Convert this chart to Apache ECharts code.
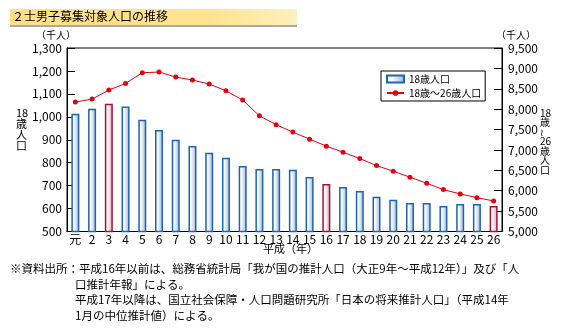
<!DOCTYPE html>
<html>
<head>
<meta charset="utf-8">
<script src="https://cdn.jsdelivr.net/npm/echarts@6/dist/echarts.min.js"></script>
<style>
html,body{margin:0;padding:0;background:#fff;}
#c{width:569px;height:329px;}
</style>
</head>
<body>
<div id="c"></div>
<script>
// ---- data ----
var categories = ['元','2','3','4','5','6','7','8','9','10','11','12','13','14','15','16','17','18','19','20','21','22','23','24','25','26'];
var pop18 = [1013,1035,1057,1045,987,943,900,873,843,821,786,773,773,769,738,707,694,677,651,638,624,624,611,620,620,611];
var pop18to26 = [8175,8247,8468,8631,8893,8910,8787,8714,8615,8451,8223,7837,7620,7437,7265,7093,6945,6788,6616,6479,6331,6184,6027,5921,5830,5749];
var highlightCats = ['3','16','26'];
var leftTicks = {min:500, max:1300, step:100};
var rightTicks = {min:5000, max:9500, step:500};
var seriesNames = ['18歳人口','18歳～26歳人口'];
var titleText = '２士男子募集対象人口の推移';
var footLines = [
  '※資料出所：平成16年以前は、総務省統計局「我が国の推計人口（大正9年～平成12年）」及び「人',
  '口推計年報」による。',
  '平成17年以降は、国立社会保障・人口問題研究所「日本の将来推計人口」（平成14年',
  '1月の中位推計値）による。'
];

var FONT = '"Noto Sans CJK JP", sans-serif';
var chart = echarts.init(document.getElementById('c'), null, {renderer:'canvas'});

function grad(c0, c1, c2){
  return new echarts.graphic.LinearGradient(0,0,1,0,[
    {offset:0,color:c0},{offset:0.3,color:c1},{offset:1,color:c2}]);
}
var blueStyle = {color: grad('#e2eaf6','#ffffff','#98b0d6'), borderColor:'#1d64b4', borderWidth:1.5};
var redStyle = {color: grad('#f6e1e7','#ffffff','#e0a2b3'), borderColor:'#a8103c', borderWidth:1.5};

var barData = pop18.map(function(v,i){
  var hi = highlightCats.indexOf(categories[i]) >= 0;
  return {value:v, itemStyle: hi ? redStyle : blueStyle};
});

function comma(v){ return Number(v).toLocaleString('en-US'); }

var footGraphics = footLines.map(function(t,i){
  return {type:'text', left: i===0 ? 10 : 75, top: 263 + i*15.5,
    style:{text:t, font:'11.5px '+FONT, fill:'#000'}};
});

chart.setOption({
  animation:false,
  backgroundColor:'#fff',
  textStyle:{fontFamily:FONT},
  grid:{left:67, top:48, width:435, height:183.5, show:true, borderColor:'#000', borderWidth:1, containLabel:false},
  legend:{
    left:381, top:71, orient:'vertical',
    backgroundColor:'#fff', borderColor:'#000', borderWidth:1,
    padding:[3,4,3,5], itemGap:4, itemWidth:17, itemHeight:7,
    textStyle:{fontSize:10, fontFamily:FONT, color:'#000'},
    data:[{name:seriesNames[0], icon:'rect'},{name:seriesNames[1]}]
  },
  xAxis:{
    type:'category', data:categories, boundaryGap:true,
    axisLine:{lineStyle:{color:'#000', width:1}},
    axisTick:{inside:true, length:4, lineStyle:{color:'#000'}},
    axisLabel:{fontSize:12, color:'#000', margin:2, interval:0, fontFamily:FONT}
  },
  yAxis:[{
    type:'value', min:leftTicks.min, max:leftTicks.max, interval:leftTicks.step,
    splitLine:{show:false},
    axisLine:{show:true, lineStyle:{color:'#000'}},
    axisTick:{show:true, inside:true, length:8, lineStyle:{color:'#000'}},
    axisLabel:{fontSize:12, color:'#000', margin:5, formatter:comma, fontFamily:FONT}
  },{
    type:'value', min:rightTicks.min, max:rightTicks.max, interval:rightTicks.step,
    splitLine:{show:false},
    axisLine:{show:true, lineStyle:{color:'#000'}},
    axisTick:{show:true, inside:true, length:8, lineStyle:{color:'#000'}},
    axisLabel:{fontSize:12, color:'#000', margin:6, formatter:comma, fontFamily:FONT}
  }],
  series:[{
    name:seriesNames[0], type:'bar', yAxisIndex:0, data:barData, barWidth:8,
    itemStyle:blueStyle
  },{
    name:seriesNames[1], type:'line', yAxisIndex:1, data:pop18to26,
    symbol:'circle', symbolSize:5,
    lineStyle:{color:'#e60012', width:1},
    itemStyle:{color:'#e60012'}
  }],
  graphic:[
    {type:'rect', shape:{x:10, y:25, width:287, height:2}, style:{fill:'#a8a8a8'}},
    {type:'rect', shape:{x:10, y:9, width:287, height:16},
      style:{fill:new echarts.graphic.LinearGradient(0,0,1,0,[{offset:0,color:'#ffe089'},{offset:0.7,color:'#ffe38f'},{offset:1,color:'#fff0c0'}])}},
    {type:'text', left:12, top:10, style:{text:titleText, font:'12px '+FONT, fill:'#000'}},
    {type:'text', left:36, top:30, style:{text:'（千人）', font:'10px '+FONT, fill:'#000'}},
    {type:'text', left:496, top:30, style:{text:'（千人）', font:'10px '+FONT, fill:'#000'}},
    {type:'text', left:16, top:107, style:{text:'18\n歳\n人\n口', font:'11px '+FONT, fill:'#000', align:'center', lineHeight:11}},
    {type:'text', left:540, top:108, style:{text:'18\n歳\n≀\n26\n歳\n人\n口', font:'10px '+FONT, fill:'#000', align:'center', lineHeight:9.5}},
    {type:'text', left:263, top:243, style:{text:'平成（年）', font:'11px '+FONT, fill:'#000'}}
  ].concat(footGraphics)
});
</script>
</body>
</html>
